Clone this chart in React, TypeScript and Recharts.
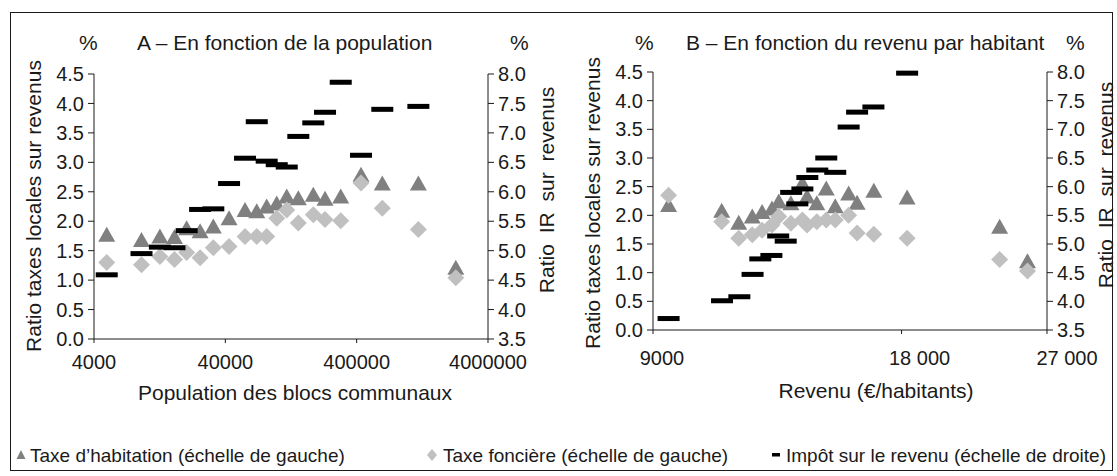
import { ScatterChart, Scatter, XAxis, YAxis } from 'recharts'

const FONT = '"Liberation Sans", Arial, Helvetica, sans-serif'
const INK = '#1a1a1a'
const TRI = '#808080'
const DIA = '#c0c0c0'

// A – en fonction de la population
const popA = [5000, 9200, 12700, 16400, 20300, 25700, 32400, 42700, 56500, 69400, 82600, 98500, 117400, 143800, 187000, 229700, 302500, 431600, 627000, 1180000, 2275000]
const thA = [1.77, 1.68, 1.74, 1.73, 1.88, 1.83, 1.91, 2.05, 2.19, 2.17, 2.25, 2.3, 2.42, 2.39, 2.45, 2.38, 2.42, 2.79, 2.64, 2.64, 1.21]
const tfA = [1.3, 1.26, 1.4, 1.35, 1.47, 1.38, 1.55, 1.57, 1.74, 1.74, 1.74, 2.05, 2.19, 1.97, 2.11, 2.03, 2.01, 2.65, 2.22, 1.86, 1.04]
const irA = [4.59, 4.95, 5.06, 5.05, 5.34, 5.7, 5.71, 6.14, 6.57, 7.19, 6.52, 6.46, 6.42, 6.94, 7.17, 7.35, 7.86, 6.62, 7.4, 7.45, null]
const popTicks = [4000, 40000, 400000, 4000000]

// B – en fonction du revenu par habitant
const revB = [9400, 10900, 11430, 11870, 12200, 12540, 12780, 13220, 13650, 13830, 14210, 14590, 14960, 15530, 15900, 16660, 18280, 23660, 25570]
const thB = [2.18, 2.08, 1.87, 1.98, 2.06, 2.12, 2.24, 2.21, 2.56, 2.33, 2.21, 2.47, 2.16, 2.38, 2.22, 2.43, 2.31, 1.8, 1.2]
const tfB = [2.35, 1.89, 1.6, 1.66, 1.74, 1.83, 1.98, 1.86, 1.92, 1.83, 1.89, 1.92, 1.92, 2.0, 1.69, 1.67, 1.6, 1.23, 1.03]
const revIrB = [9400, 10910, 11450, 11880, 12140, 12520, 12760, 13030, 13230, 13460, 13650, 13840, 14230, 14590, 14960, 15530, 15900, 16640, 18280]
const irB = [3.7, 4.01, 4.08, 4.47, 4.74, 4.8, 5.14, 5.05, 5.9, 5.7, 5.96, 6.16, 6.29, 6.5, 6.25, 7.04, 7.3, 7.39, 7.98]
const revTicks = [9000, 18000, 27000]

const leftTicks = [0, 0.5, 1, 1.5, 2, 2.5, 3, 3.5, 4, 4.5]
const rightTicks = [3.5, 4, 4.5, 5, 5.5, 6, 6.5, 7, 7.5, 8]

const pts = (xs: number[], ys: (number | null)[]) =>
  xs.map((x, i) => ({ x, y: ys[i] })).filter(d => d.y != null)

const Tri = (p: any) => (
  <polygon points={`${p.cx},${p.cy - 8} ${p.cx - 8.5},${p.cy + 7} ${p.cx + 8.5},${p.cy + 7}`} fill={TRI} />
)
const Dia = (p: any) => (
  <polygon points={`${p.cx},${p.cy - 8.5} ${p.cx + 8.5},${p.cy} ${p.cx},${p.cy + 8.5} ${p.cx - 8.5},${p.cy}`} fill={DIA} />
)
const Dash = (p: any) => <rect x={p.cx - 11} y={p.cy - 2.5} width={22} height={5} fill="#000" />

const fmt1 = (v: number) => v.toFixed(1)

function RevTick(props: any) {
  const { x, y, payload, index } = props
  const shift = [9, 18, 20][index] ?? 0
  const v = payload.value
  const s = v >= 10000 ? `${Math.floor(v / 1000)} 000` : String(v)
  return (
    <text x={x + shift} y={y} dy="0.71em" textAnchor="middle" fill={INK} fontSize={20}>
      {s}
    </text>
  )
}

const axisStyle = { stroke: INK }
const tickStyle = { fill: INK, fontSize: 20 }

function Txt({ x, y, size = 21, children, center = false }: any) {
  return (
    <div
      style={{
        position: 'absolute', left: x, top: y, fontSize: size, lineHeight: `${size}px`,
        whiteSpace: 'pre', color: INK, transform: center ? 'translateX(-50%)' : undefined,
      }}
    >
      {children}
    </div>
  )
}

function VTxt({ cx, cy, children, spacing = 0 }: any) {
  return (
    <div
      style={{
        position: 'absolute', left: cx, top: cy, fontSize: 21, lineHeight: '21px', color: INK,
        whiteSpace: 'pre', wordSpacing: spacing, transform: 'translate(-50%, -50%) rotate(-90deg)',
      }}
    >
      {children}
    </div>
  )
}

function Panel({ children, width, margin, xAxis }: any) {
  return (
    <ScatterChart width={width} height={400} margin={margin}>
      {xAxis}
      <YAxis yAxisId="l" type="number" dataKey="y" domain={[0, 4.5]} ticks={leftTicks} tickFormatter={fmt1}
        width={60} tickSize={6} tickMargin={4} tick={tickStyle} axisLine={axisStyle} tickLine={axisStyle} interval={0} />
      <YAxis yAxisId="r" orientation="right" type="number" dataKey="y" domain={[3.5, 8]} ticks={rightTicks}
        tickFormatter={fmt1} width={60} tickSize={6} tickMargin={4} tick={tickStyle} axisLine={axisStyle}
        tickLine={axisStyle} interval={0} />
      {children}
    </ScatterChart>
  )
}

export default function App() {
  return (
    <div style={{ position: 'absolute', left: 0, top: 0, width: 1117, height: 476, background: '#fff', fontFamily: FONT }}>
      <div style={{ position: 'absolute', left: 10, top: 12, width: 1103, height: 459, border: `1px solid ${INK}`, boxSizing: 'border-box' }} />

      <div style={{ position: 'absolute', left: 0, top: 0 }}>
        <Panel
          width={560}
          margin={{ top: 74, right: 12, bottom: 31, left: 34 }}
          xAxis={
            <XAxis type="number" dataKey="x" scale="log" domain={[4000, 4000000]} ticks={popTicks} allowDataOverflow
              interval={0} height={30} tickSize={4} tickMargin={12} tick={tickStyle} axisLine={axisStyle} tickLine={axisStyle} />
          }
        >
          <Scatter yAxisId="l" data={pts(popA, thA)} shape={Tri} isAnimationActive={false} />
          <Scatter yAxisId="l" data={pts(popA, tfA)} shape={Dia} isAnimationActive={false} />
          <Scatter yAxisId="r" data={pts(popA, irA)} shape={Dash} isAnimationActive={false} />
        </Panel>
      </div>

      <div style={{ position: 'absolute', left: 560, top: 0 }}>
        <Panel
          width={557}
          margin={{ top: 72, right: 10, bottom: 40, left: 33 }}
          xAxis={
            <XAxis type="number" dataKey="x" scale="log" domain={[9000, 27000]} ticks={revTicks} allowDataOverflow
              interval={0} height={30} tickSize={4} tickMargin={17} tick={<RevTick />} axisLine={axisStyle} tickLine={axisStyle} />
          }
        >
          <Scatter yAxisId="l" data={pts(revB, thB)} shape={Tri} isAnimationActive={false} />
          <Scatter yAxisId="l" data={pts(revB, tfB)} shape={Dia} isAnimationActive={false} />
          <Scatter yAxisId="r" data={pts(revIrB, irB)} shape={Dash} isAnimationActive={false} />
        </Panel>
      </div>

      <Txt x={79} y={32}>%</Txt>
      <Txt x={137} y={32}>A – En fonction de la population</Txt>
      <Txt x={510} y={32}>%</Txt>
      <Txt x={635} y={32}>%</Txt>
      <Txt x={686} y={32}>B – En fonction du revenu par habitant</Txt>
      <Txt x={1066} y={32}>%</Txt>

      <VTxt cx={33} cy={206}>Ratio taxes locales sur revenus</VTxt>
      <VTxt cx={546} cy={190} spacing={5}>Ratio IR sur revenus</VTxt>
      <VTxt cx={592} cy={203}>Ratio taxes locales sur revenus</VTxt>
      <VTxt cx={1105} cy={185} spacing={5}>Ratio IR sur revenus</VTxt>

      <Txt x={295} y={382} center>Population des blocs communaux</Txt>
      <Txt x={876} y={380} center>Revenu (€/habitants)</Txt>

      <svg style={{ position: 'absolute', left: 0, top: 440 }} width={1117} height={30}>
        <polygon points="21,10 16.5,19 25.5,19" fill={TRI} />
        <polygon points="432,9 437,15 432,21 427,15" fill={DIA} />
        <rect x={772} y={13} width={8} height={3.5} fill="#000" />
      </svg>
      <Txt x={30} y={446} size={19}>Taxe d’habitation (échelle de gauche)</Txt>
      <Txt x={443} y={446} size={19}>Taxe foncière (échelle de gauche)</Txt>
      <Txt x={786} y={446} size={19}>Impôt sur le revenu (échelle de droite)</Txt>
    </div>
  )
}
